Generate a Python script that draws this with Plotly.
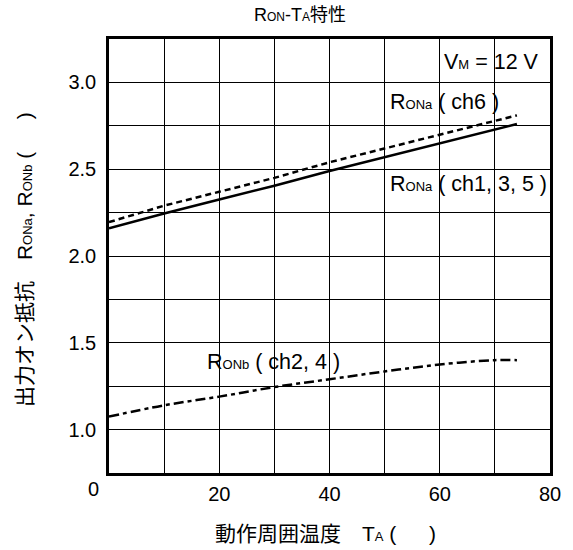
import plotly.graph_objects as go

# Data
temp_a = [0, 10, 20, 30, 40, 50, 60, 70, 74]
rona_ch135 = [2.16, 2.245, 2.325, 2.405, 2.49, 2.57, 2.65, 2.73, 2.76]
rona_ch6 = [2.195, 2.29, 2.37, 2.45, 2.54, 2.62, 2.70, 2.78, 2.81]
ronb_ch24 = [1.075, 1.14, 1.19, 1.245, 1.29, 1.335, 1.375, 1.40, 1.40]
x_ticks = [20, 40, 60, 80]
y_ticks = [1.0, 1.5, 2.0, 2.5, 3.0]

FONT = "Liberation Sans, Arial, Noto Sans CJK JP, sans-serif"
SUB = "<span style='font-size:13px'>{}</span>"
SUBT = "<span style='font-size:12px'>{}</span>"

fig = go.Figure()
fig.add_trace(go.Scatter(x=temp_a, y=rona_ch135, mode="lines",
                         line=dict(color="black", width=2.5), showlegend=False))
fig.add_trace(go.Scatter(x=temp_a, y=rona_ch6, mode="lines",
                         line=dict(color="black", width=2.5, dash="6px,4px"), showlegend=False))
fig.add_trace(go.Scatter(x=temp_a, y=ronb_ch24, mode="lines", line_shape="spline",
                         line=dict(color="black", width=2.5, dash="10px,4px,4px,4px"), showlegend=False))

ann = dict(showarrow=False, font=dict(family=FONT, size=21.5, color="black"))
fig.add_annotation(x=78.4, y=3.12, xanchor="right", yanchor="middle",
                   text="V" + SUB.format("M") + " = 12 V", **ann)
fig.add_annotation(x=50.6, y=2.89, xanchor="left", yanchor="middle",
                   text="R" + SUB.format("ONa") + " ( ch6 )", **ann)
fig.add_annotation(x=50.6, y=2.414, xanchor="left", yanchor="middle",
                   text="R" + SUB.format("ONa") + " ( ch1, 3, 5 )", **ann)
fig.add_annotation(x=17.5, y=1.39, xanchor="left", yanchor="middle",
                   text="R" + SUB.format("ONb") + " ( ch2, 4 )", **ann)
# "0" tick label (offset left in the original)
fig.add_annotation(x=0, y=0.75, xanchor="center", yanchor="middle", xshift=-16, yshift=-16,
                   text="0", showarrow=False, font=dict(family=FONT, size=20, color="black"))
# Title
fig.add_annotation(x=(305 - 109) / 452, y=(473 - 15) / 434, xref="paper", yref="paper",
                   xanchor="center", yanchor="middle",
                   text="R" + SUBT.format("ON") + "-T" + SUBT.format("A") + "特性",
                   showarrow=False, font=dict(family=FONT, size=18, color="black"))
# Axis titles
fig.add_annotation(x=(331 - 109) / 452, y=(473 - 533) / 434, xref="paper", yref="paper",
                   xanchor="center", yanchor="middle",
                   text="動作周囲温度　T" + SUB.format("A") + " ( 　 )",
                   showarrow=False, font=dict(family=FONT, size=21, color="black"))
fig.add_annotation(x=(22 - 109) / 452, y=(473 - 260) / 434, xref="paper", yref="paper",
                   xanchor="center", yanchor="middle", textangle=-90,
                   text="出力オン抵抗　R" + SUB.format("ONa") + ", R" + SUB.format("ONb") + " ( 　 )",
                   showarrow=False, font=dict(family=FONT, size=21, color="black"))

fig.update_layout(
    width=573, height=550,
    margin=dict(l=109, r=12, t=39, b=77),
    plot_bgcolor="white", paper_bgcolor="white",
    font=dict(family=FONT, size=20, color="black"),
    xaxis=dict(range=[0, 80], tickvals=x_ticks, ticks="outside", ticklen=1,
               tickcolor="rgba(0,0,0,0)",
               showgrid=True, gridcolor="black", gridwidth=1,
               minor=dict(dtick=10, tick0=0, showgrid=True, gridcolor="black", gridwidth=1),
               showline=True, linecolor="black", linewidth=2.5, mirror=True, zeroline=False),
    yaxis=dict(range=[0.75, 3.25], tickvals=y_ticks, tickformat=".1f",
               ticks="outside", ticklen=6, tickcolor="rgba(0,0,0,0)",
               showgrid=True, gridcolor="black", gridwidth=1,
               minor=dict(dtick=0.25, tick0=0.75, showgrid=True, gridcolor="black", gridwidth=1),
               showline=True, linecolor="black", linewidth=2.5, mirror=True, zeroline=False),
)

fig.write_html("out.html")
